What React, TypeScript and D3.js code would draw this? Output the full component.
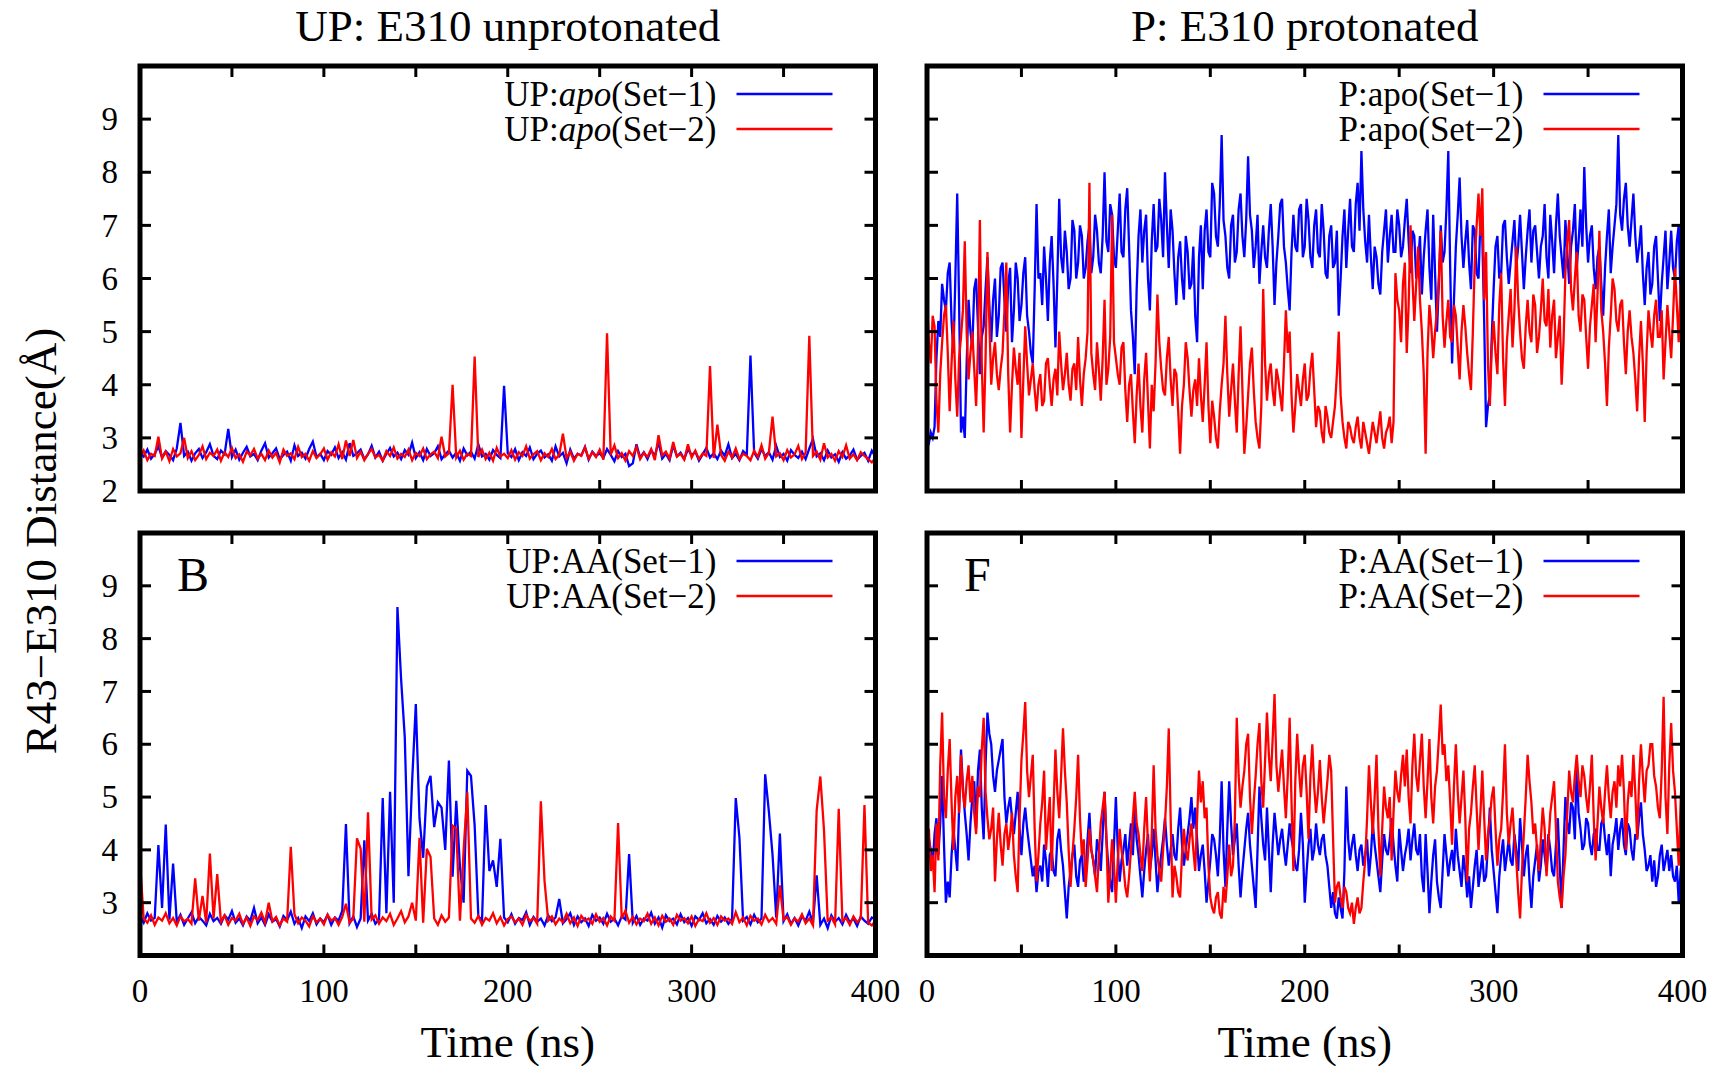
import React from 'react';
import * as d3 from 'd3';

// left column stored every 2 ns, right column every 1 ns (0..400 ns)
const T_END = 400;

// UP: E310 unprotonated, apo (2 ns)
const upApo1 = [
  2.72, 2.65, 2.78, 2.61, 2.70, 2.84, 2.63, 2.75, 2.68, 2.58,
  2.80, 3.28, 2.66, 2.74, 2.57, 2.71, 2.79, 2.62, 2.73, 2.88,
  2.66, 2.60, 2.76, 2.69, 3.17, 2.64, 2.78, 2.59, 2.72, 2.83,
  2.65, 2.70, 2.58, 2.76, 2.90, 2.63, 2.71, 2.80, 2.60, 2.68,
  2.74, 2.57, 2.86, 2.66, 2.72, 2.61, 2.79, 2.93, 2.64, 2.70,
  2.58, 2.75, 2.68, 2.82, 2.62, 2.73, 2.59, 2.90, 2.66, 2.71,
  2.78, 2.60, 2.69, 2.85, 2.63, 2.74, 2.57, 2.70, 2.81, 2.65,
  2.72, 2.60, 2.77, 2.68, 2.91, 2.62, 2.73, 2.58, 2.79, 2.66,
  2.71, 2.84, 2.60, 2.69, 2.76, 2.63, 2.72, 2.57, 2.80, 2.67,
  2.74, 2.61, 2.88, 2.65, 2.70, 2.59, 2.77, 2.68, 2.62, 3.98,
  2.71, 2.64, 2.79, 2.58, 2.73, 2.66, 2.82, 2.60, 2.70, 2.76,
  2.63, 2.69, 2.57, 2.84, 2.65, 2.72, 2.52, 2.78, 2.61, 2.70,
  2.67, 2.83, 2.59, 2.74, 2.66, 2.71, 2.62, 2.79, 2.68, 2.56,
  2.75, 2.64, 2.70, 2.47, 2.52, 2.88, 2.63, 2.73, 2.60, 2.77,
  2.66, 2.92, 2.61, 2.70, 2.58, 2.86, 2.65, 2.72, 2.60, 2.79,
  2.67, 2.74, 2.57, 2.69, 2.81, 2.63, 2.71, 2.60, 2.76, 2.66,
  2.88, 2.62, 2.70, 2.58, 2.75, 2.68, 4.55, 2.72, 2.61, 2.79,
  2.66, 2.73, 2.59, 2.85, 2.64, 2.70, 2.57, 2.77, 2.68, 2.62,
  2.74, 2.60, 2.80, 2.98, 2.65, 2.71, 2.58, 2.76, 2.63, 2.69,
  2.55, 2.73, 2.61, 2.67, 2.78, 2.59, 2.66, 2.72, 2.57, 2.76,
  2.64,
];
const upApo2 = [
  2.63, 2.76, 2.58, 2.70, 2.66, 3.02, 2.61, 2.74, 2.56, 2.79,
  2.65, 2.71, 3.00, 2.62, 2.75, 2.58, 2.68, 2.84, 2.60, 2.72,
  2.66, 2.78, 2.57, 2.73, 2.64, 2.81, 2.62, 2.69, 2.55, 2.74,
  2.67, 2.79, 2.61, 2.70, 2.58, 2.76, 2.63, 2.72, 2.54, 2.78,
  2.66, 2.71, 2.60, 2.83, 2.64, 2.70, 2.57, 2.75, 2.62, 2.69,
  2.80, 2.59, 2.73, 2.65, 2.88, 2.60, 2.95, 2.66, 2.96, 2.62,
  2.74, 2.58, 2.70, 2.79, 2.63, 2.68, 2.57, 2.75, 2.66, 2.82,
  2.61, 2.70, 2.64, 2.78, 2.58, 2.72, 2.66, 2.80, 2.60, 2.69,
  2.74, 2.62, 3.02, 2.65, 2.71, 4.00, 2.63, 2.76, 2.59, 2.70,
  2.66, 4.53, 2.64, 2.78, 2.60, 2.72, 2.57, 2.81, 2.65, 2.70,
  2.62, 2.77, 2.59, 2.73, 2.66, 2.84, 2.61, 2.69, 2.75, 2.58,
  2.71, 2.64, 2.79, 2.60, 2.68, 3.08, 2.62, 2.74, 2.57, 2.70,
  2.66, 2.82, 2.61, 2.73, 2.64, 2.78, 2.59, 4.97, 2.68, 2.86,
  2.62, 2.71, 2.57, 2.75, 2.66, 2.83, 2.60, 2.72, 2.64, 2.79,
  2.58, 3.05, 2.67, 2.74, 2.61, 2.92, 2.65, 2.70, 2.59, 2.88,
  2.63, 2.76, 2.60, 2.71, 2.66, 4.35, 2.62, 3.25, 2.68, 2.57,
  2.74, 2.63, 2.80, 2.60, 2.70, 2.66, 2.58, 2.76, 2.64, 2.86,
  2.61, 2.72, 3.40, 2.65, 2.71, 2.58, 2.77, 2.63, 2.69, 2.85,
  2.60, 2.72, 4.92, 2.66, 2.74, 2.59, 2.90, 2.63, 2.70, 2.57,
  2.75, 2.64, 2.86, 2.61, 2.69, 2.58, 2.73, 2.66, 2.60, 2.54,
  2.62,
];

// UP: E310 unprotonated, AA (2 ns)
const upAA1 = [
  2.75, 2.62, 2.80, 2.66, 2.71, 4.09, 2.90, 4.48, 2.68, 3.74,
  2.64, 2.77, 2.58, 2.70, 2.82, 2.61, 2.73, 2.66, 2.57, 2.79,
  2.65, 2.71, 2.60, 2.76, 2.68, 2.84, 2.62, 2.70, 2.57, 2.74,
  2.66, 2.90, 2.61, 2.72, 2.58, 2.78, 2.64, 2.69, 2.55, 2.75,
  2.67, 2.83, 2.60, 2.71, 2.52, 2.74, 2.65, 2.80, 2.59, 2.70,
  2.63, 2.77, 2.58, 2.72, 2.66, 2.85, 4.49, 2.61, 2.74, 2.54,
  2.70, 4.18, 2.66, 2.79, 2.60, 2.68, 4.98, 2.80, 5.10, 3.00,
  8.60, 7.23, 6.13, 3.50, 5.30, 6.76, 4.60, 3.85, 5.20, 5.40,
  4.43, 4.90, 4.80, 4.00, 5.69, 3.49, 4.93, 3.68, 3.00, 5.50,
  5.40, 4.46, 2.75, 2.66, 4.85, 3.60, 3.80, 3.30, 4.21, 2.72,
  2.63, 2.78, 2.60, 2.71, 2.67, 2.82, 2.58, 2.73, 2.64, 2.70,
  2.57, 2.76, 2.65, 2.72, 3.07, 2.61, 2.69, 2.80, 2.58, 2.74,
  2.63, 2.70, 2.56, 2.77, 2.66, 2.72, 2.60, 2.79, 2.64, 2.70,
  2.57, 2.74, 2.68, 3.92, 2.62, 2.75, 2.58, 2.70, 2.66, 2.81,
  2.60, 2.72, 2.53, 2.76, 2.65, 2.70, 2.59, 2.78, 2.63, 2.71,
  2.56, 2.74, 2.67, 2.80, 2.61, 2.69, 2.58, 2.75, 2.64, 2.72,
  2.60, 2.70, 4.98, 4.23, 2.66, 2.73, 2.59, 2.77, 2.63, 2.70,
  5.43, 4.73, 3.91, 2.72, 4.31, 2.65, 2.78, 2.60, 2.71, 2.57,
  2.74, 2.66, 2.83, 2.61, 3.52, 2.58, 2.70, 2.52, 2.76, 2.64,
  2.71, 2.59, 2.77, 2.63, 2.70, 2.56, 2.74, 2.66, 2.60, 2.72,
  2.68,
];
const upAA2 = [
  3.77, 2.70, 2.62, 2.76, 2.58, 2.72, 2.66, 2.80, 2.61, 2.71,
  2.57, 2.74, 2.65, 2.69, 2.60, 3.46, 2.66, 3.13, 2.62, 3.93,
  2.70, 3.54, 2.64, 2.76, 2.58, 2.71, 2.66, 2.79, 2.60, 2.72,
  2.56, 2.74, 2.67, 2.81, 2.62, 3.00, 2.65, 2.73, 2.57, 2.70,
  2.64, 4.06, 2.78, 2.61, 2.72, 2.66, 2.55, 2.74, 2.63, 2.70,
  2.59, 2.77, 2.66, 2.71, 2.58, 2.73, 2.98, 2.62, 2.70, 4.22,
  4.02, 2.64, 4.71, 2.68, 2.76, 2.60, 2.72, 2.65, 2.79, 2.58,
  2.70, 2.84, 2.63, 2.74, 3.00, 2.66, 4.23, 2.62, 4.02, 3.87,
  2.70, 2.58, 2.76, 2.64, 2.72, 4.46, 4.40, 2.66, 3.99, 5.09,
  2.70, 2.62, 2.75, 2.58, 2.71, 2.66, 2.80, 2.61, 2.73, 2.57,
  2.69, 2.74, 2.63, 2.70, 2.58, 2.77, 2.65, 2.71, 2.60, 4.92,
  3.41, 2.66, 2.74, 2.59, 2.70, 2.63, 2.79, 2.61, 2.72, 2.56,
  2.75, 2.66, 2.70, 2.60, 2.78, 2.64, 2.71, 2.57, 2.74, 2.66,
  4.51, 2.70, 2.85, 2.62, 2.73, 2.59, 2.70, 2.65, 2.79, 2.60,
  2.72, 2.57, 2.75, 2.64, 2.70, 2.58, 2.77, 2.66, 2.71, 2.61,
  2.74, 2.56, 2.69, 2.65, 2.80, 2.62, 2.71, 2.58, 2.74, 2.66,
  2.70, 2.60, 2.82, 2.63, 2.72, 2.57, 2.75, 2.66, 2.70, 2.59,
  2.77, 2.64, 2.71, 2.60, 3.33, 2.68, 2.73, 2.58, 2.70, 2.64,
  2.78, 2.61, 2.70, 2.57, 4.75, 5.39, 4.37, 2.66, 2.72, 2.59,
  4.78, 2.65, 2.71, 2.58, 2.74, 2.63, 2.70, 4.85, 2.62, 2.57,
  2.66,
];

// P: E310 protonated, apo (1 ns)
const pApo1 = [
  2.8, 2.9, 3.1, 3.0, 3.2, 4.5, 5.2, 4.9, 5.9, 5.6, 5.4, 6.1, 6.3, 5.2, 4.6, 6.0, 7.6, 5.5, 3.1, 3.4,
  3.0, 4.4, 5.6, 5.0, 4.7, 5.8, 6.0, 5.1, 4.2, 4.9, 5.1, 5.8, 6.4, 5.5, 4.8, 5.6, 6.0, 4.9, 5.3, 6.2,
  6.3, 5.6, 5.0, 5.9, 6.2, 4.8, 5.4, 6.3, 6.0, 5.2, 5.5, 6.1, 6.4, 5.3, 5.0, 4.6, 4.4, 5.8, 7.4, 6.0,
  6.1, 5.5, 6.6, 6.0, 5.2, 6.3, 6.8, 5.9, 4.7, 6.0, 7.5, 6.4, 6.1, 6.9, 6.5, 5.8, 6.0, 7.1, 6.9, 6.0,
  6.3, 7.0, 6.8, 6.0, 6.2, 6.7, 7.0, 6.1, 6.4, 7.2, 6.9, 6.3, 6.1, 6.8, 8.0, 6.7, 6.5, 7.4, 7.2, 6.4,
  6.2, 6.9, 7.6, 6.5, 6.4, 7.3, 7.7, 6.6, 5.4, 4.9, 4.2, 5.8, 6.8, 7.3, 6.3, 6.9, 7.2, 6.0, 5.4, 6.7,
  7.4, 6.5, 6.6, 7.5, 7.1, 6.4, 8.0, 7.0, 6.2, 7.3, 6.9, 6.1, 5.5, 6.4, 6.7, 6.0, 5.6, 6.8, 6.5, 5.8,
  5.9, 6.6, 5.3, 4.8, 6.4, 7.0, 5.8, 6.9, 7.3, 6.5, 6.4, 7.8, 7.6, 6.8, 6.6, 7.4, 8.7, 7.1, 6.8, 6.2,
  6.0, 7.0, 7.2, 6.3, 6.5, 7.3, 7.6, 6.8, 6.4, 7.1, 8.3, 7.2, 6.9, 6.2, 6.6, 7.2, 5.9, 6.5, 7.0, 6.4,
  6.2, 6.9, 7.4, 6.6, 5.5, 6.3, 6.8, 7.4, 7.5, 6.6, 6.3, 5.8, 5.4, 6.5, 7.2, 6.6, 6.5, 7.3, 7.4, 6.4,
  6.6, 7.5, 7.1, 6.4, 6.2, 7.0, 7.3, 6.5, 6.4, 7.4, 6.9, 6.1, 6.0, 6.8, 7.0, 6.2, 6.3, 6.9, 5.3, 6.0,
  6.8, 7.3, 6.2, 6.9, 7.5, 6.6, 6.5, 7.4, 7.8, 6.9, 8.4, 7.3, 6.7, 6.3, 7.2, 6.4, 5.8, 6.6, 6.4, 5.9,
  5.7, 6.5, 6.9, 7.3, 6.3, 6.8, 7.2, 6.5, 6.5, 7.3, 7.0, 6.4, 6.6, 7.1, 7.5, 6.7, 6.1, 6.9, 6.8, 6.0,
  6.3, 6.8, 5.7, 6.4, 6.9, 7.3, 6.2, 5.6, 7.2, 6.1, 5.0, 5.9, 7.0, 6.3, 6.5, 7.3, 8.4, 6.2, 4.4, 5.6,
  6.6, 7.2, 7.9, 6.8, 6.2, 6.7, 7.1, 6.3, 5.8, 7.0, 6.9, 6.1, 6.0, 7.1, 6.8, 5.2, 3.2, 3.6, 3.8, 4.9,
  5.8, 6.6, 6.8, 6.0, 6.1, 7.0, 7.1, 6.4, 5.9, 6.3, 6.7, 7.1, 6.2, 6.6, 7.2, 6.5, 5.8, 6.4, 6.9, 7.3,
  6.3, 6.9, 7.0, 6.5, 6.0, 6.6, 6.8, 7.4, 6.4, 6.0, 7.2, 6.7, 6.1, 7.0, 7.6, 6.8, 6.4, 6.0, 7.1, 6.5,
  5.9, 6.6, 6.9, 7.4, 6.2, 6.7, 7.3, 6.6, 8.1, 7.0, 6.3, 6.8, 7.0, 6.2, 5.8, 6.4, 6.6, 5.9, 5.3, 6.2,
  6.8, 7.3, 6.1, 6.6, 7.0, 7.4, 8.7, 7.2, 6.9, 7.5, 7.8, 7.0, 6.6, 7.1, 7.6, 6.8, 6.3, 6.6, 7.0, 6.1,
  5.5, 6.2, 6.5, 5.7, 5.9, 6.6, 6.8, 6.0, 5.2, 5.9, 6.4, 6.9, 5.8, 6.3, 6.9, 6.2, 6.0, 6.7, 7.0, 5.6,
  4.8,
];
const pApo2 = [
  5.6, 4.8, 4.4, 5.3, 5.1, 3.7, 3.1, 4.2, 4.8, 5.3, 5.5, 4.6, 3.5, 4.4, 5.2, 4.1, 3.4, 4.5, 4.9, 5.4,
  6.7, 5.0, 4.1, 4.6, 5.0, 4.3, 3.6, 4.7, 7.1, 4.4, 3.1, 4.5, 6.5, 5.2, 4.0, 4.5, 4.8, 4.2, 3.9, 4.3,
  4.6, 5.4, 6.3, 4.2, 3.1, 4.0, 4.7, 4.3, 4.0, 4.6, 3.0, 4.1, 5.1, 4.4, 3.8, 4.1, 4.4, 3.9, 3.5, 4.0,
  4.2, 3.6, 3.7, 4.4, 4.5, 4.0, 3.6, 4.1, 4.3, 3.8, 5.0, 4.4, 3.9, 4.2, 4.6, 4.0, 3.7, 4.3, 4.4, 3.9,
  4.9, 4.1, 3.6, 4.2, 4.5, 5.0, 7.8, 4.6, 4.2, 3.9, 4.8, 4.3, 3.7, 4.5, 5.6, 4.0, 4.3, 4.9, 7.2, 4.8,
  4.5, 4.2, 4.0, 4.7, 4.8, 3.9, 3.3, 4.0, 4.2, 3.5, 2.9, 3.8, 4.4, 3.6, 3.1, 4.1, 4.6, 3.7, 2.8, 4.0,
  3.5, 4.4, 5.7, 4.8, 4.3, 3.9, 3.8, 4.5, 4.9, 4.1, 3.6, 4.3, 4.2, 3.5, 2.7, 3.6, 4.0, 4.8, 4.5, 3.9,
  3.4, 3.9, 4.1, 3.6, 4.5, 3.8, 3.3, 4.0, 4.8, 3.6, 2.9, 3.7, 3.4, 3.0, 2.8, 3.5, 4.0, 4.4, 5.3, 4.2,
  3.4, 3.9, 4.4, 3.7, 3.1, 4.2, 5.1, 3.9, 2.7, 3.2, 3.8, 4.4, 4.7, 3.9, 3.3, 3.0, 2.8, 3.6, 5.8, 4.4,
  3.7, 4.2, 4.4, 3.9, 3.6, 4.3, 4.1, 3.8, 3.5, 4.4, 5.4, 4.6, 5.0, 3.8, 3.1, 3.6, 4.2, 3.9, 3.6, 4.1,
  4.4, 3.7, 3.8, 4.3, 4.6, 3.9, 3.2, 3.6, 3.5, 3.1, 2.9, 3.6, 3.4, 3.1, 3.0, 3.3, 3.6, 4.2, 5.0, 3.8,
  3.3, 3.0, 2.8, 3.3, 3.2, 3.0, 2.9, 3.2, 3.4, 3.0, 2.8, 3.3, 3.1, 2.9, 2.7, 3.0, 3.3, 3.1, 2.9, 3.2,
  3.5, 3.0, 2.8, 3.1, 3.2, 3.4, 2.9, 3.3, 6.1, 5.6, 5.4, 4.8, 5.9, 6.3, 4.6, 5.5, 7.0, 6.0, 5.2, 5.9,
  6.6, 5.6, 5.0, 4.2, 2.7, 4.6, 5.5, 5.1, 4.5, 5.0, 5.4, 6.0, 6.9, 5.3, 4.7, 5.2, 5.6, 4.9, 4.8, 5.5,
  5.3, 4.7, 4.1, 5.0, 5.5, 5.1, 4.6, 4.2, 3.9, 5.0, 6.3, 7.0, 7.6, 6.8, 7.7, 5.6, 6.5, 4.4, 3.6, 4.7,
  5.2, 4.6, 4.2, 5.5, 6.1, 4.5, 3.6, 4.8, 5.3, 5.8, 4.7, 5.4, 6.6, 5.6, 5.0, 4.5, 4.3, 5.1, 5.6, 5.0,
  4.8, 5.7, 5.5, 4.6, 4.9, 5.4, 6.0, 5.2, 5.1, 5.8, 4.7, 5.3, 5.6, 4.5, 4.9, 5.3, 4.0, 4.8, 6.1, 6.7,
  7.1, 5.8, 5.4, 6.0, 6.5, 5.3, 5.0, 5.7, 5.6, 4.9, 4.3, 5.1, 5.5, 5.9, 4.8, 5.7, 6.9, 5.4, 5.0, 4.4,
  3.6, 4.7, 5.3, 6.0, 5.8, 5.2, 5.0, 5.5, 5.6, 4.8, 4.2, 5.0, 5.4, 4.9, 4.6, 4.1, 3.5, 4.5, 5.2, 4.4,
  3.3, 4.6, 5.4, 5.0, 4.7, 5.3, 5.6, 4.9, 4.9, 5.4, 4.1, 4.8, 5.5, 5.0, 4.5, 5.3, 6.2, 5.5, 4.8, 5.9,
  5.4,
];

// P: E310 protonated, AA (1 ns)
const pAA1 = [
  3.8, 4.2, 4.0, 3.7, 4.3, 4.6, 3.9, 4.5, 5.4, 4.1, 3.0, 3.4, 3.1, 3.9, 4.4, 4.0, 3.6, 4.8, 5.9, 5.2,
  4.7, 4.3, 3.8, 4.5, 5.0, 5.3, 4.4, 5.5, 5.9, 4.8, 4.2, 5.6, 6.6, 6.2, 6.0, 5.4, 5.1, 5.5, 5.7, 5.9,
  6.1, 5.0, 4.5, 4.8, 5.0, 4.6, 4.3, 4.7, 5.1, 4.4, 3.9, 4.5, 4.8, 4.4, 4.1, 3.8, 3.5, 3.7, 3.2, 3.6,
  3.7, 3.4, 4.1, 3.8, 3.3, 3.9, 4.0, 3.6, 3.5, 4.2, 4.4, 4.0, 3.7, 3.2, 2.7, 3.3, 3.6, 3.9, 4.1, 3.5,
  3.3, 3.8, 3.9, 3.4, 3.5, 4.2, 4.7, 4.0, 3.8, 3.5, 4.2, 4.0, 3.6, 4.3, 5.1, 4.2, 3.7, 3.4, 3.2, 4.1,
  5.0, 4.0, 3.4, 3.8, 4.0, 4.3, 3.7, 4.1, 4.5, 3.9, 4.8, 4.2, 3.9, 3.5, 3.1, 3.6, 4.0, 4.3, 3.6, 3.9,
  4.4, 3.8, 3.2, 3.6, 3.9, 4.2, 4.6, 4.1, 3.7, 4.0, 4.3, 3.9, 3.8, 4.4, 4.8, 4.1, 3.7, 4.0, 4.3, 4.6,
  5.0, 4.4, 4.8, 4.2, 3.6, 3.9, 4.1, 3.6, 3.0, 3.4, 3.8, 4.3, 4.2, 3.9, 3.5, 4.2, 5.3, 4.0, 3.3, 4.4,
  5.3, 4.5, 3.9, 4.2, 4.5, 3.7, 3.1, 3.6, 4.0, 4.4, 4.7, 4.1, 3.7, 3.3, 2.9, 4.0, 5.2, 4.6, 4.1, 3.8,
  4.8, 4.0, 3.2, 4.1, 4.7, 4.3, 3.9, 4.2, 4.4, 4.0, 3.7, 4.1, 4.5, 4.2, 4.0, 3.7, 3.6, 4.0, 4.7, 4.1,
  3.0, 3.6, 4.1, 4.4, 3.8, 4.0, 4.5, 4.1, 3.9, 4.2, 4.3, 3.9, 3.7, 3.3, 2.9, 3.2, 2.8, 2.7, 3.1, 2.9,
  2.7, 3.6, 5.2, 4.2, 3.8, 4.1, 4.3, 3.9, 3.6, 4.0, 4.1, 3.7, 3.9, 4.2, 3.5, 3.9, 4.5, 4.1, 3.8, 3.5,
  3.2, 3.8, 4.3, 4.0, 3.9, 4.2, 4.6, 4.1, 3.7, 3.4, 4.4, 4.0, 3.6, 3.9, 4.1, 4.4, 3.8, 4.2, 4.5, 4.0,
  3.9, 4.3, 3.5, 3.2, 4.3, 3.6, 2.8, 3.4, 3.9, 4.2, 3.4, 3.1, 2.9, 3.6, 4.3, 3.9, 3.5, 3.8, 4.0, 3.6,
  4.4, 3.9, 3.6, 3.3, 3.9, 3.6, 3.1, 3.5, 2.9, 3.3, 3.7, 4.0, 3.3, 3.6, 3.9, 3.4, 3.5, 4.1, 4.8, 4.0,
  3.6, 3.2, 2.8, 3.5, 3.9, 4.2, 3.6, 3.9, 4.2, 3.8, 3.7, 4.3, 4.0, 3.6, 4.6, 4.1, 3.5, 3.9, 4.1, 3.4,
  2.9, 3.5, 3.8, 4.1, 3.4, 3.7, 4.2, 3.9, 3.6, 4.3, 4.0, 3.6, 3.5, 4.1, 4.6, 3.7, 2.9, 4.0, 5.0, 4.5,
  4.3, 4.9, 4.8, 4.2, 5.6, 4.7, 4.4, 4.0, 4.1, 4.6, 4.5, 4.1, 3.9, 4.3, 4.4, 4.0, 4.0, 4.5, 4.6, 4.2,
  3.9, 4.3, 3.5, 4.1, 4.3, 4.6, 4.0, 4.4, 4.6, 4.1, 3.9, 4.5, 4.4, 4.0, 3.8, 4.3, 4.2, 4.6, 4.9, 4.3,
  4.0, 3.6, 3.7, 3.9, 3.4, 3.8, 3.3, 3.5, 3.9, 4.1, 3.6, 3.8, 4.0, 3.6, 3.9, 3.5, 3.4, 3.7, 3.0, 3.6,
  3.9,
];
const pAA2 = [
  4.0, 4.4, 3.6, 3.9, 3.2, 4.5, 3.8, 5.6, 6.6, 5.0, 4.6, 5.5, 6.1, 4.9, 4.0, 5.0, 5.4, 4.7, 5.8, 5.1,
  4.8, 5.3, 5.6, 4.9, 5.4, 4.7, 4.3, 5.2, 5.0, 5.9, 6.5, 5.1, 4.6, 4.2, 4.4, 4.8, 3.4, 4.2, 4.7, 4.1,
  3.7, 4.3, 4.5, 4.0, 4.3, 4.7, 3.9, 3.5, 3.2, 4.6, 5.7, 6.2, 6.8, 5.5, 5.0, 5.4, 5.8, 4.4, 3.4, 3.9,
  4.5, 4.9, 5.5, 4.0, 4.5, 5.0, 3.6, 4.8, 5.9, 5.1, 4.6, 5.4, 6.3, 5.5, 4.9, 4.0, 3.3, 3.9, 4.4, 5.0,
  5.8, 4.6, 3.9, 4.2, 3.3, 3.8, 4.4, 4.0, 3.8, 3.5, 3.2, 3.9, 4.5, 4.8, 5.1, 4.2, 3.0, 3.6, 4.2, 3.7,
  3.0, 3.8, 4.4, 4.0, 3.7, 3.3, 3.1, 3.5, 4.0, 4.6, 5.1, 4.5, 4.3, 3.9, 3.6, 4.4, 5.0, 4.1, 3.4, 4.3,
  5.6, 4.4, 3.9, 3.6, 3.4, 4.0, 4.5, 5.2, 6.3, 4.6, 3.1, 3.7, 3.5, 3.2, 3.1, 3.9, 4.4, 4.0, 3.8, 4.2,
  4.5, 4.0, 3.6, 4.6, 5.5, 4.9, 5.3, 4.6, 4.8, 3.7, 3.1, 2.9, 2.8, 3.1, 3.2, 2.8, 2.7, 3.3, 3.0, 3.5,
  4.1, 3.5, 3.7, 4.6, 6.5, 5.4, 4.8, 5.2, 5.5, 6.0, 6.2, 5.0, 4.3, 4.9, 5.4, 6.0, 6.4, 5.3, 4.8, 5.7,
  6.6, 5.8, 5.3, 6.1, 6.95, 5.6, 5.1, 5.5, 5.9, 5.2, 4.6, 5.4, 6.5, 4.9, 3.6, 5.3, 6.2, 5.5, 5.0, 5.6,
  5.8, 5.1, 4.2, 5.4, 6.0, 5.2, 4.7, 5.1, 5.7, 5.0, 4.5, 4.9, 5.3, 5.8, 5.5, 4.2, 3.0, 3.3, 3.4, 3.1,
  2.9, 3.3, 3.2, 2.9, 2.8, 3.0, 2.6, 2.9, 3.1, 2.8, 2.9, 3.4, 3.8, 4.6, 5.6, 4.9, 4.3, 5.0, 5.8, 4.4,
  3.5, 4.4, 5.2, 4.8, 4.6, 5.0, 3.8, 4.7, 5.5, 5.1, 4.9, 5.4, 5.8, 5.2, 5.9, 5.0, 4.5, 5.6, 6.2, 5.4,
  5.1, 5.7, 6.2, 5.2, 4.6, 5.3, 6.1, 5.0, 4.5, 5.2, 5.5, 6.1, 6.75, 5.8, 6.0, 5.3, 5.6, 4.9, 4.1, 5.2,
  6.0, 5.1, 4.5, 5.0, 5.5, 4.6, 3.4, 4.4, 4.7, 5.2, 5.6, 4.8, 4.0, 4.7, 5.5, 4.6, 3.8, 4.3, 4.6, 5.0,
  5.2, 4.4, 3.7, 4.2, 4.4, 5.1, 6.0, 4.7, 4.1, 4.5, 4.8, 4.2, 3.8, 3.2, 2.7, 3.6, 4.3, 5.0, 5.8, 5.3,
  4.9, 4.3, 4.5, 4.0, 3.6, 4.2, 4.8, 4.4, 3.5, 4.1, 4.7, 5.0, 5.3, 4.4, 3.4, 3.1, 2.9, 3.5, 3.9, 4.7,
  5.5, 5.1, 4.9, 5.4, 5.8, 5.3, 5.0, 5.6, 5.4, 5.0, 4.7, 5.2, 5.8, 4.6, 3.8, 4.5, 5.2, 4.8, 4.5, 5.1,
  5.6, 5.0, 4.6, 5.1, 5.3, 4.8, 5.6, 5.2, 5.8, 5.1, 4.0, 4.9, 5.3, 5.0, 5.8, 5.1, 4.2, 5.3, 6.0, 5.4,
  4.9, 5.5, 5.6, 6.0, 6.0, 5.4, 5.2, 4.8, 4.6, 5.5, 6.9, 5.0, 4.3, 5.6, 6.4, 5.5, 5.1, 4.4, 3.7, 4.9,
  5.7,
];

const xTicks = [0, 50, 100, 150, 200, 250, 300, 350, 400];
const xTickLabels = [0, 100, 200, 300, 400];
const yTicks = [2, 3, 4, 5, 6, 7, 8, 9, 10];
const yLabelsTop = [2, 3, 4, 5, 6, 7, 8, 9];
const yLabelsBottom = [3, 4, 5, 6, 7, 8, 9];
const columnTitles = ['UP: E310 unprotonated', 'P: E310 protonated'];

const W = 1725;
const H = 1066;
const FONT = '"Liberation Serif", "Times New Roman", Times, serif';
const BLUE = '#0000ff';
const RED = '#ff0000';

const COLS = [
  { left: 140, right: 875.5 },
  { left: 927, right: 1682.5 },
];
const ROWS = [
  { top: 66, bottom: 491 },
  { top: 533, bottom: 955.5 },
];

type LegendName = { pre: string; it?: string; post?: string };
type PanelDef = {
  id: string;
  col: number;
  row: number;
  s1: number[];
  s2: number[];
  n1: LegendName;
  n2: LegendName;
  letter?: string;
  yLabels: number[];
};

const panels: PanelDef[] = [
  {
    id: 'tl', col: 0, row: 0, s1: upApo1, s2: upApo2,
    n1: { pre: 'UP:', it: 'apo', post: '(Set\u22121)' },
    n2: { pre: 'UP:', it: 'apo', post: '(Set\u22122)' },
    yLabels: yLabelsTop,
  },
  {
    id: 'tr', col: 1, row: 0, s1: pApo1, s2: pApo2,
    n1: { pre: 'P:apo(Set\u22121)' },
    n2: { pre: 'P:apo(Set\u22122)' },
    yLabels: [],
  },
  {
    id: 'bl', col: 0, row: 1, s1: upAA1, s2: upAA2,
    n1: { pre: 'UP:AA(Set\u22121)' },
    n2: { pre: 'UP:AA(Set\u22122)' },
    letter: 'B',
    yLabels: yLabelsBottom,
  },
  {
    id: 'br', col: 1, row: 1, s1: pAA1, s2: pAA2,
    n1: { pre: 'P:AA(Set\u22121)' },
    n2: { pre: 'P:AA(Set\u22122)' },
    letter: 'F',
    yLabels: [],
  },
];

function Panel({ p }: { p: PanelDef }) {
  const c = COLS[p.col];
  const r = ROWS[p.row];
  const x = d3.scaleLinear().domain([0, T_END]).range([c.left, c.right]);
  const y = d3.scaleLinear().domain([2, 10]).range([r.bottom, r.top]);
  const pathFor = (s: number[]) => {
    const step = T_END / (s.length - 1);
    return (
      d3
        .line<number>()
        .x((_, i) => x(i * step))
        .y((d) => y(d))(s) || ''
    );
  };
  const tick = 11;
  const legRows = [r.top + 28, r.top + 63];
  const legTextX = c.right - 159;
  const legLine = [c.right - 139, c.right - 43];
  const names = [p.n1, p.n2];
  const colors = [BLUE, RED];

  return (
    <g>
      <clipPath id={`clip-${p.id}`}>
        <rect x={c.left} y={r.top} width={c.right - c.left} height={r.bottom - r.top} />
      </clipPath>
      <g clipPath={`url(#clip-${p.id})`} fill="none" strokeWidth={2.3}>
        <path d={pathFor(p.s1)} stroke={BLUE} />
        <path d={pathFor(p.s2)} stroke={RED} />
      </g>
      <g stroke="#000" strokeWidth={3}>
        {xTicks.map((t) => (
          <g key={`x${t}`}>
            <line x1={x(t)} x2={x(t)} y1={r.bottom} y2={r.bottom - tick} />
            <line x1={x(t)} x2={x(t)} y1={r.top} y2={r.top + tick} />
          </g>
        ))}
        {yTicks.map((v) => (
          <g key={`y${v}`}>
            <line x1={c.left} x2={c.left + tick} y1={y(v)} y2={y(v)} />
            <line x1={c.right} x2={c.right - tick} y1={y(v)} y2={y(v)} />
          </g>
        ))}
      </g>
      <rect
        x={c.left}
        y={r.top}
        width={c.right - c.left}
        height={r.bottom - r.top}
        fill="none"
        stroke="#000"
        strokeWidth={5}
      />
      <g fontFamily={FONT} fontSize={33} fill="#000">
        {p.yLabels.map((v) => (
          <text key={`yl${v}`} x={c.left - 22} y={y(v)} dy="0.34em" textAnchor="end">
            {v}
          </text>
        ))}
        {p.row === 1 &&
          xTickLabels.map((t) => (
            <text key={`xl${t}`} x={x(t)} y={1002} textAnchor="middle">
              {t}
            </text>
          ))}
      </g>
      <g fontFamily={FONT} fontSize={35}>
        {names.map((n, i) => (
          <g key={`leg${i}`}>
            <text x={legTextX} y={legRows[i]} dy="0.35em" textAnchor="end">
              {n.pre}
              {n.it ? <tspan fontStyle="italic">{n.it}</tspan> : null}
              {n.post ? n.post : null}
            </text>
            <line
              x1={legLine[0]}
              x2={legLine[1]}
              y1={legRows[i]}
              y2={legRows[i]}
              stroke={colors[i]}
              strokeWidth={2.6}
            />
          </g>
        ))}
      </g>
      {p.letter && (
        <text x={c.left + 37} y={r.top + 58} fontFamily={FONT} fontSize={48}>
          {p.letter}
        </text>
      )}
    </g>
  );
}

export default function App() {
  return (
    <svg
      width={W}
      height={H}
      viewBox={`0 0 ${W} ${H}`}
      style={{ position: 'absolute', left: 0, top: 0, background: '#fff' }}
    >
      <rect width={W} height={H} fill="#fff" />
      {panels.map((p) => (
        <Panel key={p.id} p={p} />
      ))}
      <g fontFamily={FONT} fontSize={45} textAnchor="middle">
        {columnTitles.map((t, i) => (
          <text key={t} x={(COLS[i].left + COLS[i].right) / 2} y={41}>
            {t}
          </text>
        ))}
        {COLS.map((c, i) => (
          <text key={`time${i}`} x={(c.left + c.right) / 2} y={1057}>
            Time (ns)
          </text>
        ))}
        <text transform="translate(56,541) rotate(-90)">R43{'\u2212'}E310 Distance({'\u00c5'})</text>
      </g>
    </svg>
  );
}
